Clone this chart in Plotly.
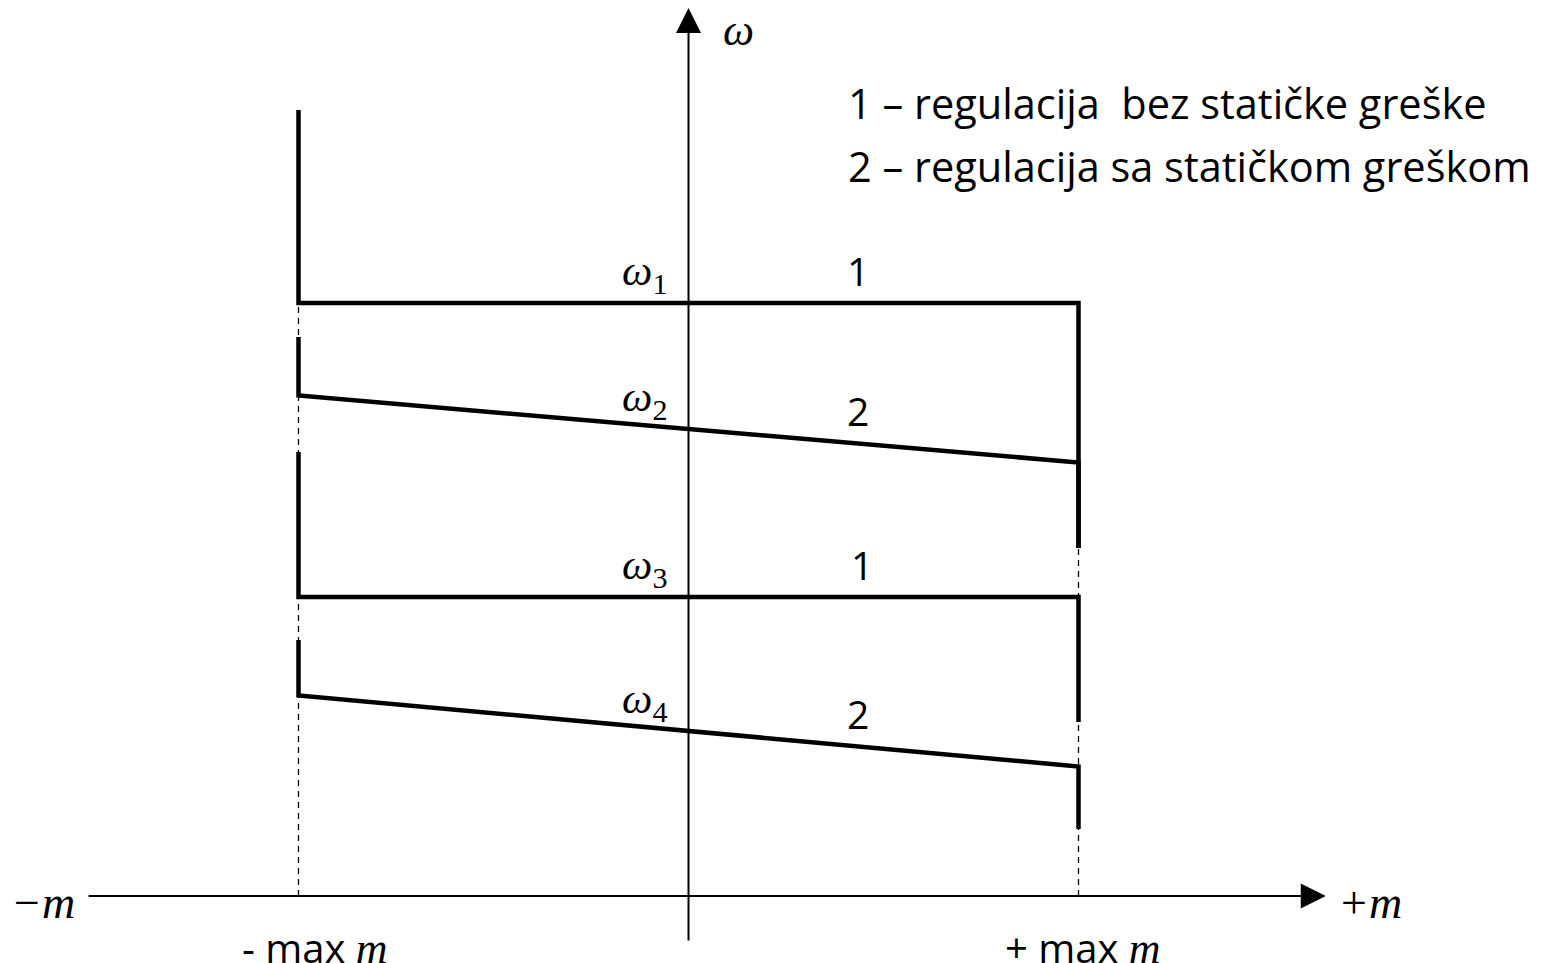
import plotly.graph_objects as go

# ---- data (logical units: m in [-max, +max], omega in arbitrary units) ----
m_max = 1.0
curve_ids = ["1", "2", "1", "2"]
omega_labels = ["1", "2", "3", "4"]
omega_center = [5.93, 4.67, 2.99, 1.65]       # omega at m = 0
omega_droop = [0.0, 0.335, 0.0, 0.355]        # change of omega from m=0 to m=max
left_top = [7.86, 5.59, 4.44, 2.56]           # top of vertical segment at -max m
right_bottom = [3.48, 3.48, 1.74, 0.67]       # bottom of vertical segment at +max m
label_m = [0.435, 0.435, 0.445, 0.435]        # where the curve ids sit
legend_lines = ["1 – regulacija  bez statičke greške",
                "2 – regulacija sa statičkom greškom"]

# axis extents (logical units)
m_axis = [-1.542, 1.634]
w_axis = [-0.46, 8.88]

# ---- page geometry (browser body has an 8px margin) ----
PAGE_W, PAGE_H, BODY = 1550, 963, 8
X0, SX = 688.5, 390.0     # page px of m=0, px per unit m
Y0, SY = 896.0, 100.0     # page px of omega=0, px per unit omega
FIG_W, FIG_H = PAGE_W - BODY, PAGE_H
x_range = [(BODY - X0) / SX, (BODY + FIG_W - X0) / SX]
y_range = [(Y0 - (BODY + FIG_H)) / SY, (Y0 - BODY) / SY]

SANS = "'Open Sans', 'Noto Sans', sans-serif"
SERIF = "'Liberation Serif', 'DejaVu Serif', serif"

fig = go.Figure()

# dashed guides at +/- max m
for s in (-1, 1):
    fig.add_trace(go.Scatter(x=[s * m_max, s * m_max], y=[0, omega_center[0]],
                             mode="lines", line=dict(color="black", width=1.3, dash="6px,5px"),
                             hoverinfo="skip", showlegend=False))

# characteristics
for wc, d, lt, rb in zip(omega_center, omega_droop, left_top, right_bottom):
    wl = wc + d
    wr = wc - d
    fig.add_trace(go.Scatter(x=[-m_max, -m_max, m_max, m_max], y=[lt, wl, wr, rb],
                             mode="lines", line=dict(color="black", width=4.5),
                             hoverinfo="skip", showlegend=False))

ann = []
# horizontal axis arrow
ann.append(dict(x=m_axis[1], y=0, ax=m_axis[0], ay=0, xref="x", yref="y", axref="x", ayref="y",
                text="", showarrow=True, arrowhead=2, arrowsize=2.5, arrowwidth=2, arrowcolor="black"))
# vertical axis arrow
ann.append(dict(x=0, y=w_axis[1], ax=0, ay=w_axis[0], xref="x", yref="y", axref="x", ayref="y",
                text="", showarrow=True, arrowhead=2, arrowsize=2.5, arrowwidth=2, arrowcolor="black"))

# axis labels
ann.append(dict(x=0, y=w_axis[1], xref="x", yref="y", text="<i>ω</i>", showarrow=False,
                xanchor="center", yanchor="middle", xshift=50, yshift=-22,
                font=dict(family=SERIF, size=44, color="black")))
ann.append(dict(x=m_axis[0], y=0, xref="x", yref="y", text="<i>−m</i>", showarrow=False,
                xanchor="right", yanchor="middle", xshift=-10, yshift=-6,
                font=dict(family=SERIF, size=46, color="black")))
ann.append(dict(x=m_axis[1], y=0, xref="x", yref="y", text="<i>+m</i>", showarrow=False,
                xanchor="left", yanchor="middle", xshift=10, yshift=-6,
                font=dict(family=SERIF, size=46, color="black")))
for s, sign, shift in ((-1, "-", 16), (1, "+", 4)):
    ann.append(dict(x=s * m_max, y=0, xref="x", yref="y",
                    text=sign + " max <span style='font-family:Liberation Serif;font-size:44px'><i>m</i></span>",
                    showarrow=False, xanchor="center", yanchor="middle", xshift=shift, yshift=-51,
                    font=dict(family=SANS, size=40, color="black")))

# omega labels and curve ids
for lbl, cid, wc, d, lm in zip(omega_labels, curve_ids, omega_center, omega_droop, label_m):
    ann.append(dict(x=0, y=wc, xref="x", yref="y",
                    text="<i>ω</i><sub>" + lbl + "</sub>", showarrow=False,
                    xanchor="right", yanchor="bottom", xshift=-20, yshift=0,
                    font=dict(family=SERIF, size=43, color="black")))
    ann.append(dict(x=lm, y=wc - d * lm / m_max, xref="x", yref="y", text=cid, showarrow=False,
                    xanchor="center", yanchor="middle", yshift=33,
                    font=dict(family=SANS, size=39, color="black")))

# legend text
for i, t in enumerate(legend_lines):
    ann.append(dict(x=(846 - X0) / SX, y=7.93 - 0.63 * i, xref="x", yref="y", text=t, showarrow=False,
                    xanchor="left", yanchor="middle",
                    font=dict(family=SANS, size=41.5, color="black")))

fig.update_layout(
    width=FIG_W, height=FIG_H,
    margin=dict(l=0, r=0, t=0, b=0),
    paper_bgcolor="white", plot_bgcolor="white",
    xaxis=dict(range=x_range, visible=False, fixedrange=True),
    yaxis=dict(range=y_range, visible=False, fixedrange=True),
    annotations=ann,
    showlegend=False,
)

fig.write_html("out.html")
